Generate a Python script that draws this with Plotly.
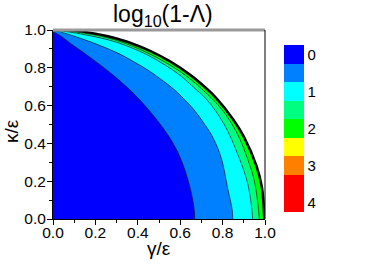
import plotly.graph_objects as go

# ---- data (gamma/eps, kappa/eps) ----
# outer edge of the physical region (jagged black border)
edge_g = [0.0, 0.1, 0.2, 0.3, 0.4, 0.46, 0.55, 0.65, 0.72, 0.77, 0.85, 0.9, 0.96, 0.985, 0.997]
edge_k = [1.0, 0.995, 0.98, 0.955, 0.917, 0.888, 0.835, 0.76, 0.694, 0.64, 0.527, 0.436, 0.28, 0.17, 0.0]
# boundary springgreen / green
sgb_g = [0.0, 0.15, 0.3, 0.457, 0.6, 0.70, 0.80, 0.87, 0.911, 0.95, 0.973]
sgb_k = [1.0, 0.983, 0.945, 0.873, 0.78, 0.69, 0.575, 0.45, 0.339, 0.2, 0.0]
# boundary cyan / springgreen
csg_g = [0.0, 0.15, 0.303, 0.457, 0.594, 0.67, 0.723, 0.806, 0.876, 0.92, 0.942]
csg_k = [1.0, 0.975, 0.934, 0.861, 0.765, 0.69, 0.635, 0.504, 0.33, 0.18, 0.0]
# boundary dodgerblue / cyan
dc_g = [0.0, 0.15, 0.303, 0.40, 0.457, 0.52, 0.574, 0.613, 0.66, 0.702, 0.75, 0.793, 0.824, 0.845, 0.848]
dc_k = [0.998, 0.948, 0.879, 0.82, 0.781, 0.73, 0.683, 0.64, 0.585, 0.522, 0.44, 0.325, 0.162, 0.05, 0.0]
# boundary blue / dodgerblue
b_g = [0.0, 0.10, 0.19, 0.28, 0.363, 0.43, 0.49, 0.545, 0.59, 0.625, 0.65, 0.665, 0.669]
b_k = [0.99, 0.915, 0.843, 0.765, 0.683, 0.605, 0.525, 0.44, 0.35, 0.25, 0.15, 0.06, 0.0]

band_colors = ["#0000FF", "#0080FF", "#00FFFF", "#00FF80", "#00FF00",
               "#FFFF00", "#FF8000", "#FF0000", "#FF0000"]   # top -> bottom of colorbar
cbar_labels = ["0", "1", "2", "3", "4"]
x_ticks = [0.0, 0.2, 0.4, 0.6, 0.8, 1.0]

FONT = "Liberation Sans, Arial, sans-serif"
W, H = 374, 264
PL, PT, PW, PH = 53, 30, 212, 189   # plot area in pixels

fig = go.Figure()


def region(g, k, fill, lw, lc):
    xs = [-0.05] + list(g) + [g[-1], -0.05]
    ys = [k[0]] + list(k) + [-0.05, -0.05]
    fig.add_trace(go.Scatter(
        x=xs, y=ys, mode="lines", fill="toself", fillcolor=fill,
        line=dict(color=lc, width=lw, shape="spline", smoothing=1.0),
        hoverinfo="skip", showlegend=False))


region(edge_g, edge_k, "#00FF00", 2.6, "#000000")
region(sgb_g, sgb_k, "#00FF80", 0.7, "#1a1a1a")
region(csg_g, csg_k, "#00FFFF", 0.7, "#1a1a1a")
region(dc_g, dc_k, "#0080FF", 0.7, "#1a1a1a")
region(b_g, b_k, "#0000FF", 0.7, "#1a1a1a")

# colorbar (values negated so that 0 is on top)
n = len(band_colors)
rev = band_colors[::-1]
cs = []
for i, c in enumerate(rev):
    cs.append([i / n, c])
    cs.append([(i + 1) / n, c])
fig.add_trace(go.Scatter(
    x=[5], y=[5], mode="markers",
    marker=dict(size=1, color=[0], colorscale=cs, cmin=-4.25, cmax=0.25,
                showscale=True,
                colorbar=dict(tickvals=[-int(t) for t in cbar_labels], ticktext=cbar_labels,
                              ticks="", outlinewidth=0, thickness=20,
                              lenmode="pixels", len=167, x=(284 - PL) / PW,
                              xanchor="left", xpad=0, y=(PT + PH - 128.5) / PH,
                              yanchor="middle", ypad=0,
                              tickfont=dict(family=FONT, size=15, color="black"))),
    hoverinfo="skip", showlegend=False))

axis_common = dict(range=[0, 1], showgrid=False, zeroline=False, showline=True,
                   linecolor="black", linewidth=1, ticks="outside", ticklen=5,
                   tickcolor="black", tickwidth=1, tickvals=x_ticks,
                   ticktext=[f"{v:.1f}" for v in x_ticks],
                   tickfont=dict(family=FONT, size=15.5, color="black"),
                   minor=dict(ticks="outside", ticklen=3, dtick=0.1,
                              tickcolor="black", tickwidth=1))

fig.update_layout(
    width=W, height=H,
    margin=dict(l=PL, r=W - PL - PW, t=PT, b=H - PT - PH),
    paper_bgcolor="white", plot_bgcolor="white",
    xaxis=dict(axis_common, ticklabelstandoff=-6),
    yaxis=dict(axis_common, ticklabelstandoff=-2),
    shapes=[
        dict(type="line", xref="paper", yref="paper", x0=0, x1=1, y0=1, y1=1,
             line=dict(color="#9a9a9a", width=3)),
        dict(type="line", xref="paper", yref="paper", x0=1, x1=1, y0=0, y1=1,
             line=dict(color="black", width=1)),
    ],
    annotations=[
        dict(text="log<sub>10</sub>(1-Λ)", xref="paper", yref="paper",
             x=(163 - PL) / PW, y=(PT + PH - 15) / PH, xanchor="center", yanchor="middle",
             showarrow=False, font=dict(family=FONT, size=23, color="black")),
        dict(text="γ/ε", xref="paper", yref="paper",
             x=(159 - PL) / PW, y=(PT + PH - 248) / PH, xanchor="center", yanchor="middle",
             showarrow=False, font=dict(family=FONT, size=19, color="black")),
        dict(text="κ/ε", xref="paper", yref="paper", textangle=-90,
             x=(11 - PL) / PW, y=(PT + PH - 131) / PH, xanchor="center", yanchor="middle",
             showarrow=False, font=dict(family=FONT, size=19, color="black")),
    ],
)

fig.write_html("out.html", config={"displayModeBar": False},
               post_script="document.body.style.margin='0px';")
